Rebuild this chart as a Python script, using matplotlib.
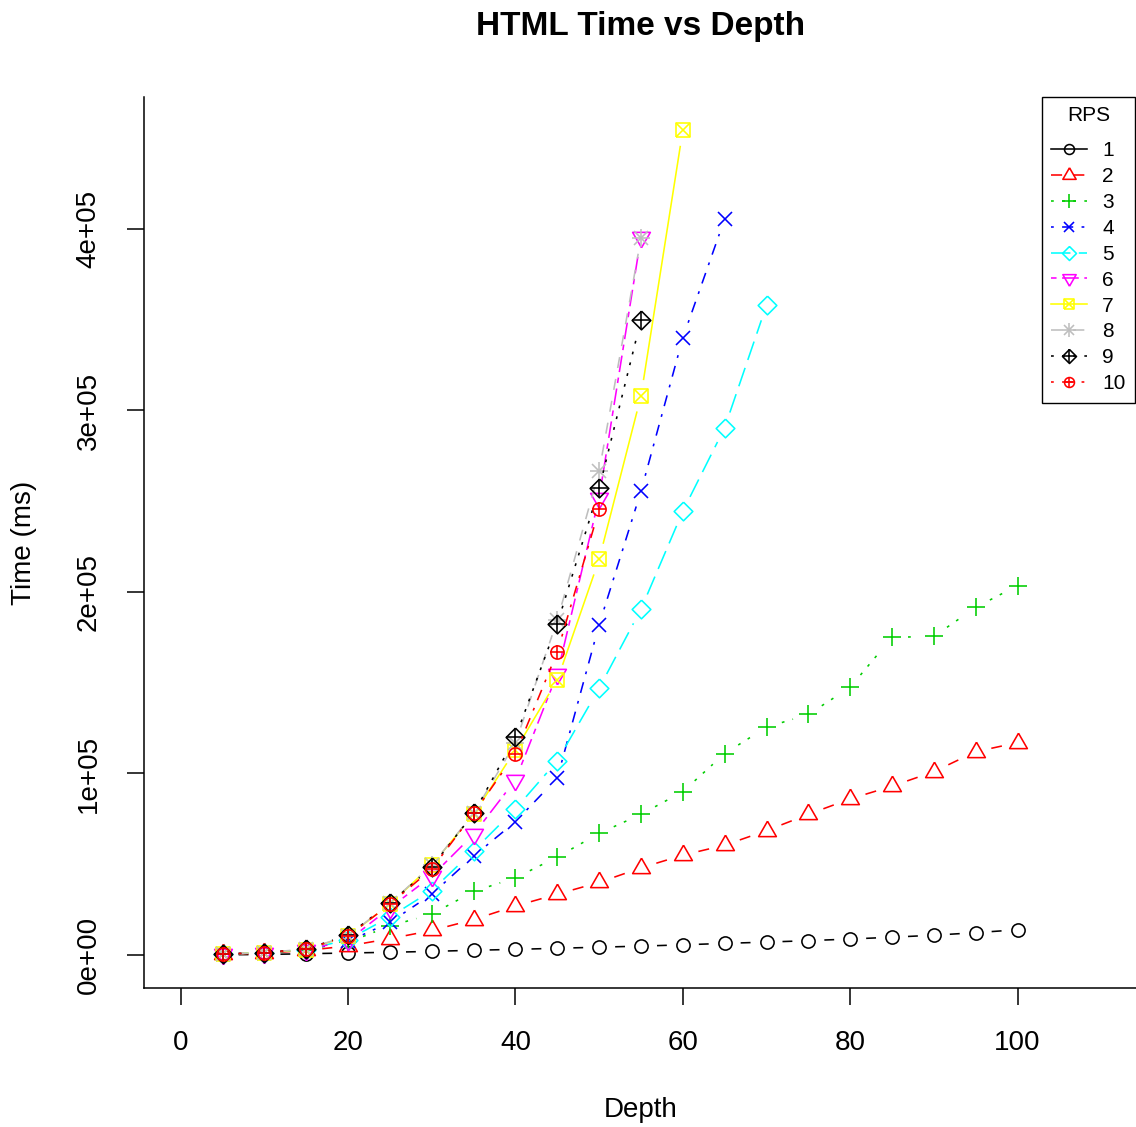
import numpy as np
import matplotlib
matplotlib.use("Agg")
import matplotlib.pyplot as plt
from matplotlib.lines import Line2D

plt.rcParams['font.family'] = ['Liberation Sans', 'DejaVu Sans']
plt.rcParams['lines.scale_dashes'] = False

# ---------------- data ----------------
depth = [5, 10, 15, 20, 25, 30, 35, 40, 45, 50, 55, 60, 65, 70, 75, 80, 85, 90, 95, 100]
rps_labels = ["1", "2", "3", "4", "5", "6", "7", "8", "9", "10"]

rps1 = [100, 300, 700, 1100, 1500, 2000, 2600, 3100, 3700, 4300, 4900, 5600, 6400, 7100,
        7900, 8800, 9800, 10900, 12300, 13900]
rps2 = [400, 1000, 2500, 5000, 9000, 13500, 19500, 27000, 33500, 40000, 48000, 55000, 60500,
        68500, 77500, 86000, 93000, 101000, 112000, 117000]
rps3 = [400, 1000, 3000, 7000, 16000, 22500, 35000, 42500, 54000, 67000, 77500, 90000, 111000,
        125500, 132500, 147500, 175000, 175500, 191500, 203500]
rps4 = [500, 1300, 3000, 7500, 18000, 33500, 54500, 73500, 97500, 182000, 255500, 340000, 405500]
rps5 = [500, 1300, 3000, 8500, 21000, 35500, 57500, 80500, 107000, 147000, 190500, 244500,
        290500, 358000]
rps6 = [500, 1300, 3000, 8000, 26000, 43500, 66500, 96500, 155000, 252000, 395500]
rps7 = [500, 1300, 3000, 10500, 28000, 49500, 77500, 113000, 151500, 218000, 308000, 454500]
rps8 = [500, 1300, 3300, 10500, 28500, 49500, 78000, 117000, 184500, 266500, 395000]
rps9 = [500, 1300, 3300, 11000, 28500, 48500, 78000, 120000, 182500, 257000, 350000]
rps10 = [500, 1300, 3300, 10500, 28000, 47500, 78000, 111000, 167000, 245500]

series = [rps1, rps2, rps3, rps4, rps5, rps6, rps7, rps8, rps9, rps10]

xticks = [0, 20, 40, 60, 80, 100]
yticks = [0, 100000, 200000, 300000, 400000]
ytick_labels = ["0e+00", "1e+05", "2e+05", "3e+05", "4e+05"]

# ---------------- styles (R defaults) ----------------
colors = ["black", "#FF0000", "#00CD00", "#0000FF", "#00FFFF", "#FF00FF", "#FFFF00",
          "#BEBEBE", "black", "#FF0000"]
u = 2.0
ltys = [None, (0, (4*u, 4*u)), (0, (1*u, 3*u)), (0, (1*u, 3*u, 4*u, 3*u)), (0, (7*u, 3*u)),
        (0, (2*u, 2*u, 6*u, 2*u)), None, (0, (4*u, 4*u)), (0, (1*u, 3*u)),
        (0, (1*u, 3*u, 4*u, 3*u))]

R = 4.75  # R symbol radius in points
tri_up = [(0, 1), (0.866, -0.5), (-0.866, -0.5), (0, 1)]
tri_dn = [(0, -1), (0.866, 0.5), (-0.866, 0.5), (0, -1)]
diam = [(0, 1), (1, 0), (0, -1), (-1, 0), (0, 1)]
sq = [(-1, -1), (1, -1), (1, 1), (-1, 1), (-1, -1)]
pch = [
    [("o", 2*R)],
    [(tri_up, 2*1.555*R)],
    [("+", 2*1.414*R)],
    [("x", 2*R)],
    [(diam, 2*1.414*R)],
    [(tri_dn, 2*1.555*R)],
    [(sq, 2*R), ("x", 2*R)],
    [("+", 2*1.414*R), ("x", 2*R)],
    [(diam, 2*1.414*R), ("+", 2*1.414*R)],
    [("o", 2*R), ("+", 2*R)],
]
LW = 1.15

W, H = 1136, 1127
fig = plt.figure(figsize=(W/100, H/100), dpi=100)
left_px, right_px, top_px, bot_px = 144, 1138, 97, 988
ax = fig.add_axes([left_px/W, 1 - bot_px/H, (right_px-left_px)/W, (bot_px-top_px)/H])
ax.set_xlim(-4.4, 114.4)
ax.set_ylim(-18180, 472680)

# draw type="b" series
gap = 16.0
for i, ys in enumerate(series):
    xs = depth[:len(ys)]
    pts = ax.transData.transform(np.column_stack([xs, ys]))
    for k in range(len(pts) - 1):
        p0, p1 = pts[k], pts[k+1]
        d = np.hypot(*(p1 - p0))
        if d > 2*gap:
            v = (p1 - p0) / d
            a = p0 + v*gap
            b = p1 - v*gap
            seg = ax.transData.inverted().transform(np.array([a, b]))
            kw = dict(color=colors[i], lw=LW, solid_capstyle='butt')
            if ltys[i] is not None:
                kw['linestyle'] = ltys[i]
            ax.plot(seg[:, 0], seg[:, 1], **kw)
    for m, s in pch[i]:
        ax.plot(xs, ys, linestyle='none', marker=m, markersize=s, markerfacecolor='none',
                markeredgecolor=colors[i], markeredgewidth=LW)

# axes styling
for sp in ['top', 'right']:
    ax.spines[sp].set_visible(False)
for sp in ['left', 'bottom']:
    ax.spines[sp].set_linewidth(1.1)
ax.set_xticks(xticks)
ax.set_xticklabels([str(t) for t in xticks])
ax.set_yticks(yticks)
ax.set_yticklabels(ytick_labels, rotation=90, va='center')
ax.tick_params(axis='both', direction='out', length=12.5, width=1.1, labelsize=20)
ax.tick_params(axis='x', pad=18)
ax.tick_params(axis='y', pad=18)

fig.text(641/W, 1 - 27/H, "HTML Time vs Depth", ha='center', va='center',
         fontsize=24, fontweight='bold')
fig.text(641/W, 1 - 1110/H, "Depth", ha='center', va='center', fontsize=20)
fig.text(24/W, 1 - 543/H, "Time (ms)", ha='center', va='center', fontsize=20, rotation=90)

# legend
sc = 0.75
handles = []
for i in range(10):
    parts = []
    for j, (m, s) in enumerate(pch[i]):
        kw = dict(color=colors[i], lw=LW if j == 0 else 0, marker=m, markersize=s*sc,
                  markerfacecolor='none', markeredgecolor=colors[i], markeredgewidth=LW)
        if j == 0 and ltys[i] is not None:
            kw['linestyle'] = ltys[i]
        if j > 0:
            kw['linestyle'] = 'none'
        parts.append(Line2D([], [], **kw))
    handles.append(tuple(parts) if len(parts) > 1 else parts[0])

leg = fig.legend(handles, rps_labels, title="RPS", loc='upper right',
                 bbox_to_anchor=(1135/W, 1 - 97/H), bbox_transform=fig.transFigure,
                 fontsize=15, title_fontsize=15, frameon=True, fancybox=False,
                 edgecolor='black', framealpha=1, borderpad=0.45, labelspacing=0.33,
                 handlelength=1.7, handletextpad=0.75, borderaxespad=0)
leg.get_frame().set_linewidth(1.0)
leg._legend_box.sep = 11.5

fig.savefig("out.png", dpi=100)
